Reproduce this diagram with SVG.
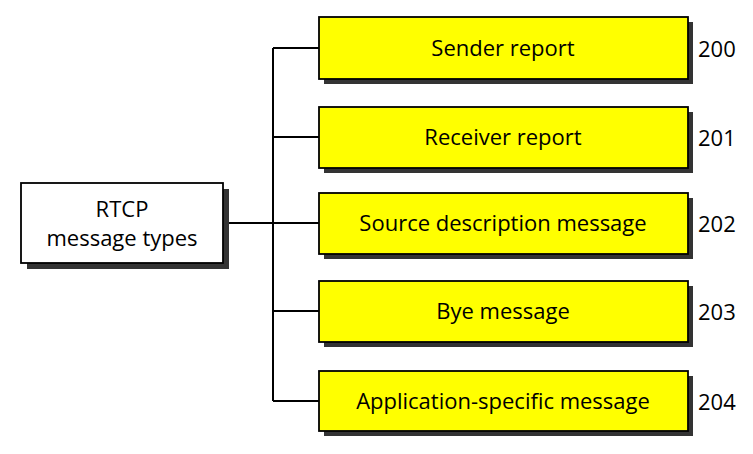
<svg xmlns="http://www.w3.org/2000/svg" width="753" height="454" viewBox="0 0 753 454">
<style>
.sh{fill:#333333}
.box{fill:#ffff00;stroke:#000;stroke-width:1.8}
.root{fill:#ffffff;stroke:#000;stroke-width:1.8}
.t{font-family:"Open Sans","Noto Sans",sans-serif;font-size:22px;fill:#000;text-anchor:middle}
.n{font-family:"Open Sans","Noto Sans",sans-serif;font-size:22px;fill:#000}
.c{fill:none;stroke:#000;stroke-width:2}
</style>
<rect width="753" height="454" fill="#fff"/>
<g id="connectors">
<path class="c" d="M273,48V401M273,48H319M273,137H319M223,223H319M273,311H319M273,401H319"/>
</g>
<g id="root">
<rect class="sh" x="27" y="189" width="202" height="80"/>
<rect class="root" x="21" y="183" width="202" height="80"/>
<text class="t" x="122" y="217">RTCP</text>
<text class="t" x="122" y="246">message types</text>
</g>
<g id="n200">
<rect class="sh" x="324" y="22" width="369" height="62"/>
<rect class="box" x="319" y="17" width="369" height="62"/>
<text class="t" x="503" y="56">Sender report</text>
<text class="n" x="698" y="57">200</text>
</g>
<g id="n201">
<rect class="sh" x="324" y="112" width="369" height="61"/>
<rect class="box" x="319" y="107" width="369" height="61"/>
<text class="t" x="503" y="145">Receiver report</text>
<text class="n" x="698" y="146">201</text>
</g>
<g id="n202">
<rect class="sh" x="324" y="198" width="369" height="61"/>
<rect class="box" x="319" y="193" width="369" height="61"/>
<text class="t" x="503" y="231">Source description message</text>
<text class="n" x="698" y="232">202</text>
</g>
<g id="n203">
<rect class="sh" x="324" y="286" width="369" height="61"/>
<rect class="box" x="319" y="281" width="369" height="61"/>
<text class="t" x="503" y="319">Bye message</text>
<text class="n" x="698" y="320">203</text>
</g>
<g id="n204">
<rect class="sh" x="324" y="376" width="369" height="60"/>
<rect class="box" x="319" y="371" width="369" height="60"/>
<text class="t" x="503" y="409">Application-specific message</text>
<text class="n" x="698" y="410">204</text>
</g>
</svg>
